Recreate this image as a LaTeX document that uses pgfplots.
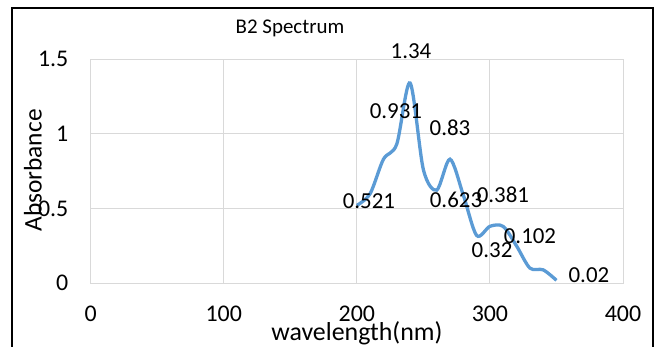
\documentclass[border=0pt]{standalone}
\usepackage{pgfplots}
\pgfplotsset{compat=1.18}
\usepackage{pgfplotstable}
\usepackage{fontspec}
\setmainfont{Carlito}
\definecolor{xlblue}{HTML}{5B9BD5}
\definecolor{xlgrid}{HTML}{D9D9D9}

\pgfplotstableread{
x y
200 0.521
210 0.60
220 0.83
230 0.931
240 1.34
250 0.76
260 0.623
270 0.83
280 0.59
290 0.32
300 0.381
310 0.38
320 0.25
330 0.102
340 0.09
350 0.02
}\spectrum

% data labels, placed where the reference shows them
\pgfplotstableread{
x y lab
209.1 0.550 0.521
229.4 1.148 0.931
240.7 1.553 1.34
274.5 0.557 0.623
270.0 1.039 0.83
301.6 0.223 0.32
309.8 0.590 0.381
330.1 0.316 0.102
374.4 0.056 0.02
}\labels

\begin{document}
\begin{tikzpicture}
\useasboundingbox (-90.7bp,-63.7bp) rectangle (567.3bp,283.3bp);
\draw[black, line width=2bp] (-78.7bp,-63.7bp) -- (-78.7bp,275.3bp) -- (562.3bp,275.3bp) -- (562.3bp,-63.7bp);
\begin{axis}[
  at={(0,0)}, anchor=south west,
  scale only axis, width=532.3bp, height=224.3bp,
  xmin=0, xmax=400, ymin=0, ymax=1.5,
  clip=false,
  xtick={0,100,200,300,400}, ytick={0,0.5,1,1.5},
  grid=major, grid style={xlgrid, line width=0.9bp},
  axis line style={xlgrid, line width=0.9bp},
  major tick length=0pt,
  /pgf/number format/assume math mode=true,
  tick label style={font=\fontsize{24}{28}\selectfont, inner sep=0pt},
  xticklabel style={anchor=base, yshift=-38.4bp},
  yticklabel style={anchor=east, xshift=-22.2bp},
  xlabel={wavelength(nm)},
  ylabel={Absorbance},
  every axis x label/.style={at={(axis description cs:0.5,-0.2528)}, anchor=base, font=\fontsize{26}{30}\selectfont, inner sep=0pt},
  every axis y label/.style={at={(axis description cs:-0.0924,0.503)}, rotate=90, anchor=base, font=\fontsize{25.5}{30}\selectfont, inner sep=0pt},
  title={B2 Spectrum},
  every axis title/.style={at={(axis description cs:0.3744,1.1115)}, anchor=base, font=\fontsize{21}{25}\selectfont, inner sep=0pt},
]
\addplot[smooth, xlblue, line width=3.3bp] table[x=x, y=y] {\spectrum};
\addplot[draw=none, mark=none, nodes near coords, point meta=explicit symbolic,
  every node near coord/.append style={anchor=center, font=\fontsize{23}{27}\selectfont, inner sep=0pt, text=black}]
  table[x=x, y=y, meta=lab] {\labels};
\end{axis}
\end{tikzpicture}
\end{document}
